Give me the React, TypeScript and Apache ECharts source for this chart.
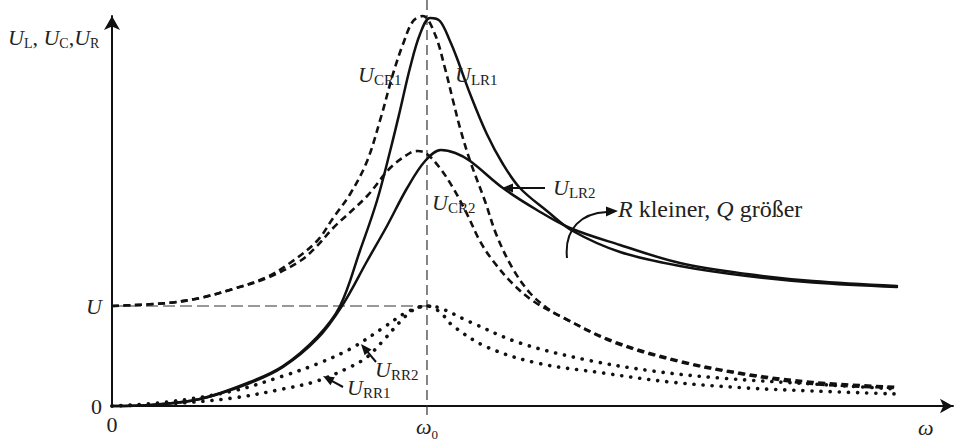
import { useEffect, useRef } from 'react';
import * as echarts from 'echarts';

// ω/ω0 and U/U values
const omegaLR1 = [0, 0.121, 0.279, 0.438, 0.543, 0.651, 0.724, 0.787, 0.841, 0.883, 0.914, 0.946, 0.978, 1.010, 1.041, 1.073, 1.095, 1.137, 1.190, 1.241, 1.295, 1.381, 1.463, 1.613, 1.803, 2.016, 2.225, 2.492];
const uLR1 = [0, 0.01, 0.07, 0.24, 0.40, 0.69, 1.0, 1.55, 2.05, 2.55, 2.95, 3.38, 3.72, 3.88, 3.85, 3.65, 3.48, 3.12, 2.72, 2.42, 2.18, 1.95, 1.75, 1.54, 1.40, 1.30, 1.235, 1.19];

const omegaLR2 = [0, 0.121, 0.279, 0.438, 0.543, 0.651, 0.730, 0.810, 0.873, 0.937, 0.994, 1.044, 1.090, 1.137, 1.241, 1.349, 1.454, 1.613, 1.803, 2.016, 2.225, 2.492];
const uLR2 = [0, 0.01, 0.07, 0.23, 0.39, 0.67, 1.0, 1.45, 1.80, 2.18, 2.45, 2.56, 2.53, 2.45, 2.18, 1.96, 1.78, 1.61, 1.43, 1.32, 1.25, 1.20];

const omegaCR1 = [0, 0.175, 0.279, 0.384, 0.492, 0.565, 0.651, 0.702, 0.756, 0.810, 0.855, 0.892, 0.924, 0.956, 0.987, 1.025, 1.057, 1.083, 1.105, 1.137, 1.184, 1.222, 1.273, 1.327, 1.381, 1.422, 1.590, 1.803, 2.016, 2.225, 2.492];
const uCR1 = [1.0, 1.03, 1.08, 1.17, 1.29, 1.43, 1.65, 1.88, 2.12, 2.45, 2.90, 3.32, 3.62, 3.85, 3.90, 3.72, 3.38, 3.05, 2.78, 2.45, 2.05, 1.70, 1.37, 1.13, 0.98, 0.90, 0.65, 0.45, 0.32, 0.24, 0.19];

const omegaCR2 = [0, 0.175, 0.279, 0.384, 0.492, 0.597, 0.651, 0.702, 0.810, 0.883, 0.946, 0.971, 1.0, 1.041, 1.083, 1.127, 1.168, 1.210, 1.273, 1.337, 1.422, 1.590, 1.803, 2.016, 2.225, 2.492];
const uCR2 = [1.0, 1.03, 1.08, 1.17, 1.28, 1.45, 1.60, 1.78, 2.10, 2.38, 2.53, 2.55, 2.52, 2.38, 2.18, 1.92, 1.65, 1.45, 1.22, 1.05, 0.90, 0.64, 0.44, 0.31, 0.22, 0.18];

const omegaRR1 = [0, 0.175, 0.384, 0.543, 0.651, 0.756, 0.810, 0.860, 0.914, 0.956, 1.0, 1.041, 1.083, 1.190, 1.349, 1.559, 1.771, 2.016, 2.225, 2.492];
const uRR1 = [0, 0.02, 0.08, 0.17, 0.25, 0.39, 0.49, 0.65, 0.84, 0.96, 1.0, 0.94, 0.80, 0.59, 0.43, 0.33, 0.24, 0.18, 0.15, 0.12];

const omegaRR2 = [0, 0.175, 0.384, 0.543, 0.651, 0.756, 0.860, 0.937, 1.0, 1.041, 1.137, 1.295, 1.508, 1.717, 1.930, 2.225, 2.492];
const uRR2 = [0, 0.04, 0.15, 0.30, 0.42, 0.57, 0.78, 0.94, 1.0, 0.98, 0.84, 0.63, 0.46, 0.35, 0.28, 0.22, 0.17];

const yTickLabels: Record<number, string> = { 0: '{n|0}', 1: '{i|U}' };
const xTickLabels: Record<number, string> = { 0: '{n|0}', 1: '{w|ω}{s|0}' };

const SERIF = 'Liberation Serif';
const INK = '#111';
const TXT = '#222';

export default function App() {
  const ref = useRef<HTMLDivElement>(null);

  useEffect(() => {
    const chart = echarts.init(ref.current!, null, { renderer: 'svg' });
    const pairs = (xs: number[], ys: number[]) => xs.map((x, i) => [x, ys[i]]);
    const curve = (name: string, xs: number[], ys: number[], type: any, width: number, cap: string) => ({
      type: 'line',
      name,
      data: pairs(xs, ys),
      showSymbol: false,
      symbol: 'none',
      smooth: 0.35,
      clip: false,
      silent: true,
      z: 3,
      lineStyle: { color: INK, width, type, cap },
    });
    const axisRich = {
      n: { fontFamily: SERIF, fontSize: 22, lineHeight: 26, color: TXT },
      i: { fontFamily: SERIF, fontSize: 22, lineHeight: 26, fontStyle: 'italic', color: TXT },
      w: { fontFamily: SERIF, fontSize: 22, lineHeight: 30, fontStyle: 'italic', color: TXT },
      s: { fontFamily: SERIF, fontSize: 13, lineHeight: 13, verticalAlign: 'bottom', color: TXT },
    };

    chart.setOption({
      animation: false,
      backgroundColor: '#fff',
      textStyle: { fontFamily: SERIF },
      grid: { left: 112, right: 8, top: 16, bottom: 36 },
      xAxis: {
        type: 'value', min: 0, max: 2.67, interval: 1,
        axisLine: { show: true, onZero: false, symbol: ['none', 'arrow'], symbolSize: [11, 13], lineStyle: { color: INK, width: 2 } },
        axisTick: { show: false }, splitLine: { show: false },
        axisLabel: { margin: 5, fontFamily: SERIF, formatter: (v: number) => xTickLabels[v] ?? '', rich: axisRich },
      },
      yAxis: {
        type: 'value', min: 0, max: 3.9, interval: 1,
        axisLine: { show: true, onZero: false, symbol: ['none', 'arrow'], symbolSize: [12, 14], lineStyle: { color: INK, width: 2 } },
        axisTick: { show: false }, splitLine: { show: false },
        axisLabel: { margin: 10, fontFamily: SERIF, formatter: (v: number) => yTickLabels[v] ?? '', rich: axisRich },
      },
      series: [
        curve('U_LR1', omegaLR1, uLR1, 'solid', 2.5, 'round'),
        curve('U_LR2', omegaLR2, uLR2, 'solid', 2.5, 'round'),
        curve('U_CR1', omegaCR1, uCR1, [7, 4.5], 2.6, 'butt'),
        curve('U_CR2', omegaCR2, uCR2, [7, 4.5], 2.6, 'butt'),
        curve('U_RR1', omegaRR1, uRR1, [0.1, 9], 3.6, 'round'),
        curve('U_RR2', omegaRR2, uRR2, [0.1, 9], 3.6, 'round'),
      ],
    });

    const o = chart.convertToPixel({ gridIndex: 0 }, [0, 1]) as number[];
    const w0 = chart.convertToPixel({ gridIndex: 0 }, [1, 0]) as number[];

    const arrow = (x1: number, y1: number, x2: number, y2: number, len = 11, hw = 4.5) => {
      const dx = x2 - x1, dy = y2 - y1, d = Math.hypot(dx, dy), ux = dx / d, uy = dy / d;
      const bx = x2 - ux * len, by = y2 - uy * len;
      return [
        { type: 'line', z: 10, shape: { x1, y1, x2: bx + ux, y2: by + uy }, style: { stroke: INK, lineWidth: 2 } },
        { type: 'polygon', z: 10, shape: { points: [[x2, y2], [bx - uy * hw, by + ux * hw], [bx + uy * hw, by - ux * hw]] }, style: { fill: INK } },
      ];
    };
    const tok = (size: number, lh: number, italic: boolean, sub: boolean) => ({
      fontFamily: SERIF,
      fontSize: size,
      lineHeight: lh,
      fontStyle: italic ? 'italic' : 'normal',
      fontWeight: 'normal',
      verticalAlign: sub ? 'bottom' : 'middle',
      fill: TXT,
    });
    const labRich = {
      u: tok(22, 26, true, false),
      s: tok(15, 16, false, true),
      t: tok(14, 16, false, true),
      n: tok(22, 26, false, false),
      ri: tok(24, 26, true, false),
      rn: tok(24, 26, false, false),
    };
    const label = (x: number, top: number, text: string) => ({
      type: 'text', z: 10, x, y: top,
      style: { text, rich: labRich, fontFamily: SERIF, fontSize: 22, align: 'left', verticalAlign: 'top', fill: TXT },
    });

    chart.setOption({
      graphic: [
        { type: 'line', z: 1, shape: { x1: w0[0], y1: 0, x2: w0[0], y2: w0[1] + 12 }, style: { stroke: '#333', lineWidth: 1.2, lineDash: [10, 5] } },
        { type: 'line', z: 1, shape: { x1: o[0], y1: o[1], x2: w0[0], y2: o[1] }, style: { stroke: '#333', lineWidth: 1.2, lineDash: [12, 5] } },
        label(8, 24.5, '{u|U}{t|L}{n|, }{u|U}{t|C}{n|,}{u|U}{t|R}'),
        label(358, 61.5, '{u|U}{s|CR1}'),
        label(455, 61.5, '{u|U}{s|LR1}'),
        label(432, 189.5, '{u|U}{s|CR2}'),
        label(553, 174.5, '{u|U}{s|LR2}'),
        label(375, 356.5, '{u|U}{s|RR2}'),
        label(347, 374.5, '{u|U}{s|RR1}'),
        label(618, 196, '{ri|R}{rn| kleiner, }{ri|Q}{rn| größer}'),
        label(918, 414.5, '{u|ω}'),
        ...arrow(545, 188, 502, 188),
        ...arrow(376, 362, 361, 344),
        ...arrow(343, 387, 323, 376),
        { type: 'bezierCurve', z: 10, shape: { x1: 567, y1: 258, cpx1: 564, cpy1: 228, cpx2: 582, cpy2: 213, x2: 607, y2: 212 }, style: { stroke: INK, lineWidth: 2, fill: 'none' } },
        { type: 'polygon', z: 10, shape: { points: [[618, 211], [606, 206.5], [606, 216.5]] }, style: { fill: INK } },
      ],
    });

    return () => chart.dispose();
  }, []);

  return <div ref={ref} style={{ position: 'fixed', left: 0, top: 0, width: 961, height: 442, background: '#fff' }} />;
}
